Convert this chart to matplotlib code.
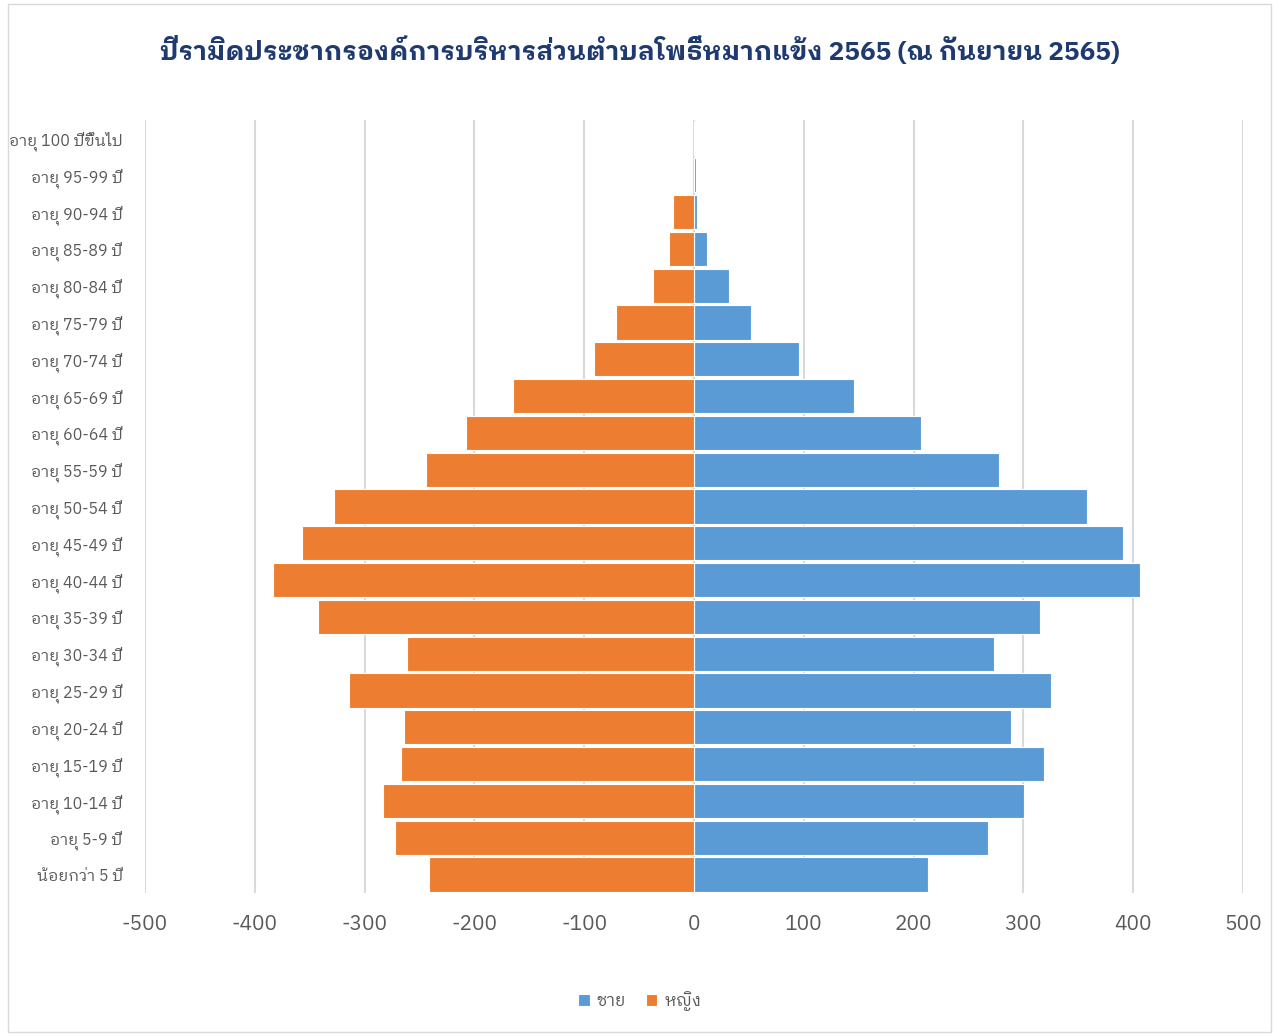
import numpy as np
import matplotlib
matplotlib.use("Agg")
import matplotlib.pyplot as plt

age_groups = ["น้อยกว่า 5 ปี", "อายุ 5-9 ปี", "อายุ 10-14 ปี", "อายุ 15-19 ปี",
              "อายุ 20-24 ปี", "อายุ 25-29 ปี", "อายุ 30-34 ปี", "อายุ 35-39 ปี",
              "อายุ 40-44 ปี", "อายุ 45-49 ปี", "อายุ 50-54 ปี", "อายุ 55-59 ปี",
              "อายุ 60-64 ปี", "อายุ 65-69 ปี", "อายุ 70-74 ปี", "อายุ 75-79 ปี",
              "อายุ 80-84 ปี", "อายุ 85-89 ปี", "อายุ 90-94 ปี", "อายุ 95-99 ปี",
              "อายุ 100 ปีขึ้นไป"]
male = [213, 268, 301, 319, 289, 325, 273, 315, 406, 391, 358, 278,
        207, 146, 96, 52, 32, 12, 3, 2, 0]
female = [241, 272, 283, 267, 264, 314, 261, 342, 383, 357, 328, 244,
          208, 165, 91, 71, 37, 23, 19, 0, 0]
x_ticks = [-500, -400, -300, -200, -100, 0, 100, 200, 300, 400, 500]

plt.rcParams['font.family'] = ['IBM Plex Sans Thai Looped', 'IBM Plex Sans Thai', 'DejaVu Sans']

fig = plt.figure(figsize=(12.79, 10.36), dpi=100)
ax = fig.add_axes([145 / 1279, 1 - 893 / 1036, 1098 / 1279, 773 / 1036])

ind = np.arange(len(age_groups))
ax.barh(ind, male, height=0.93, color='#5B9BD5', edgecolor='white', linewidth=0.8, label='ชาย', zorder=3)
ax.barh(ind, [-v for v in female], height=0.93, color='#ED7D31', edgecolor='white', linewidth=0.8, label='หญิง', zorder=3)

ax.set_xlim(-500, 500)
ax.set_ylim(-0.5, len(age_groups) - 0.5)
ax.set_xticks(x_ticks)
ax.set_xticklabels([str(v) for v in x_ticks], fontsize=15, color='#595959')
ax.set_yticks(ind)
ax.set_yticklabels(age_groups, fontsize=11.5, color='#595959')
ax.tick_params(axis='both', length=0)
ax.tick_params(axis='x', pad=16)
ax.tick_params(axis='y', pad=16)
ax.xaxis.grid(True, color='#D9D9D9', linewidth=1.5, zorder=0)
for s in ax.spines.values():
    s.set_visible(False)

fig.text(0.5, 1 - 50 / 1036, 'ปีรามิดประชากรองค์การบริหารส่วนตำบลโพธิ์หมากแข้ง 2565 (ณ กันยายน 2565)',
         ha='center', va='center', fontsize=18.8, fontweight='bold', color='#1F3A70')

fig.legend(loc='center', bbox_to_anchor=(0.5, 1 - 1001 / 1036), ncol=2, frameon=False,
           fontsize=12, handlelength=0.7, handleheight=0.7, columnspacing=1.2,
           handletextpad=0.4, labelcolor='#595959')

border = plt.Rectangle((0.006, 0.004), 0.988, 0.992, transform=fig.transFigure,
                       fill=False, edgecolor='#D9D9D9', linewidth=1)
fig.patches.append(border)

fig.savefig('out.png', dpi=100)
